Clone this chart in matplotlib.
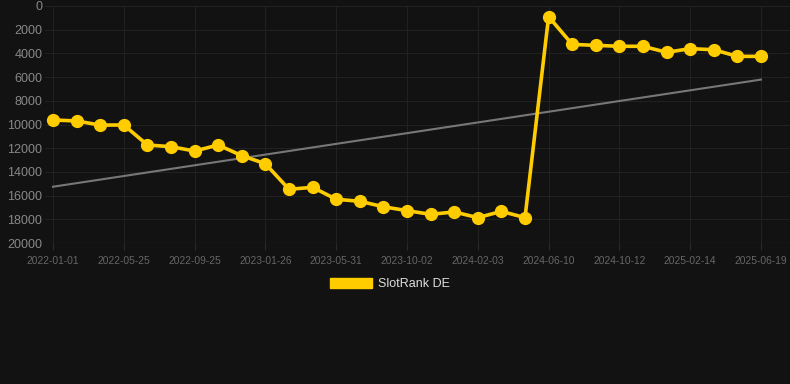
import numpy as np
import matplotlib.pyplot as plt
from matplotlib.patches import Patch

# rank values, one point per period (index 0..30)
ranks = [9620, 9700, 10050, 10040, 11730, 11870, 12240, 11730, 12630, 13310,
         15470, 15300, 16310, 16480, 16940, 17270, 17580, 17380, 17860, 17330,
         17860, 900, 3240, 3320, 3400, 3400, 3910, 3600, 3690, 4250, 4250]
tick_labels = ['2022-01-01', '2022-05-25', '2022-09-25', '2023-01-26', '2023-05-31',
               '2023-10-02', '2024-02-03', '2024-06-10', '2024-10-12', '2025-02-14',
               '2025-06-19']
y_ticks = [0, 2000, 4000, 6000, 8000, 10000, 12000, 14000, 16000, 18000, 20000]

bg = '#121212'
plt.rcParams['font.family'] = ['Liberation Sans', 'DejaVu Sans']

fig = plt.figure(figsize=(7.9, 3.84), dpi=100, facecolor=bg)
ax = fig.add_axes([45 / 790, 1 - 243 / 384, (790 - 45) / 790, 237 / 384])
ax.set_facecolor(bg)

x = np.arange(len(ranks))
# trend line (least squares)
k, b = np.polyfit(x, ranks, 1)
ax.plot(x, k * x + b, color='#777777', lw=1.5, zorder=2)
ax.plot(x, ranks, color='#FFCC00', lw=2.6, marker='o', ms=8.5, zorder=3,
        clip_on=False, label='SlotRank DE')

step = 708 / 30  # pixels per point
ax.set_ylim(20000, 0)
ax.set_xlim(-8 / step, 30 + 29 / step)
ax.set_yticks(y_ticks)
ax.set_xticks(x[::3])
ax.set_xticklabels(tick_labels)
ax.tick_params(axis='y', colors='#888888', labelsize=9, length=0, pad=2)
ax.tick_params(axis='x', colors='#666666', labelsize=7.4, length=5, pad=4)
ax.tick_params(axis='x', color='#2a2a2a')
ax.grid(True, color='#212121', lw=0.8)
for s in ax.spines.values():
    s.set_visible(False)
ax.axhline(20000, color='#2a2a2a', lw=0.9, zorder=1)

fig.legend(handles=[Patch(color='#FFCC00', label='SlotRank DE')],
           loc='center', bbox_to_anchor=(390 / 790, 1 - 284 / 384),
           frameon=False, fontsize=9, labelcolor='#dddddd',
           handlelength=3.3, handleheight=0.9, handletextpad=0.5)

fig.savefig('out.png', facecolor=bg)
